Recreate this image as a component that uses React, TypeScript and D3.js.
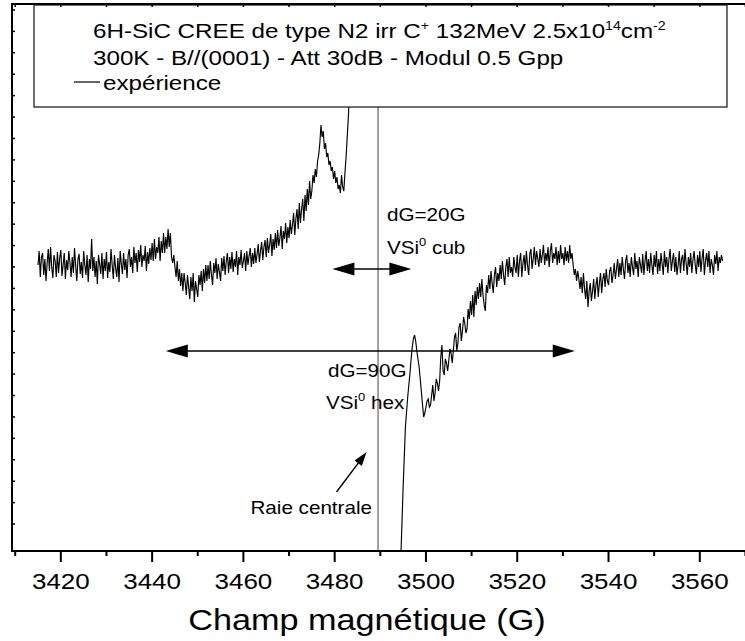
import React from "react";
import * as d3 from "d3";

// ---- data ----
const FIELD_STEP = 0.25;
const LEFT_START = 3415;
const LEFT_VALUES = [
  2, 16, -10, 10, 14, -8, 8, -14, 4, 18,
  -4, 20, 0, -11, 12, 6, -10, 15, -6, 9,
  17, -9, 2, 14, -12, 7, -3, 16, 4, -10,
  10, -6, 19, 1, -14, 8, 13, -7, 5, -11,
  16, 2, -8, 12, -15, 8, -2, 28, -4, 10,
  -10, 6, -17, 12, 3, -7, 14, -12, 8, -4,
  15, -11, 5, -5, 18, 2, -12, 12, -1, -10,
  9, -15, 16, 3, -7, 14, -3, 8, -11, 12,
  18, 0, 10, -6, 20, 4, 14, -5, 17, 5,
  22, 0, 12, 6, 21, -4, 15, 3, 19, 7,
  24, 6, 28, 8, 20, 14, 30, 6, 26, 14,
  34, 14, 30, 18, 38, 20, 34, 10, 4, 12,
  0, -10, 6, -14, -2, -19, -6, -24, -6, -16,
  -28, -8, -20, -32, -10, -24, -6, -35, -14, -22,
  -30, -8, -18, -4, -24, -2, -16, 2, -14, 2,
  -12, 6, -8, -18, 4, -6, 9, -12, 3, -5,
  -14, 9, -4, 11, -8, 6, 14, -6, 10, -2,
  15, -5, 8, 0, 16, -8, 10, 2, 17, -1,
  6, 14, -4, 16, 2, 11, 19, 0, 14, 3,
  19, 4, 13, 23, 5, 16, 25, 7, 20, 27,
  10, 29, 14, 22, 33, 11, 28, 17, 34, 19,
  37, 21, 29, 41, 18, 36, 28, 44, 24, 40,
  29, 47, 33, 42, 54, 32, 48, 58, 38, 64,
  44, 58, 68, 46, 72, 56, 78, 62, 86, 68,
  76, 92, 84, 98, 90, 106, 112, 124, 142, 130,
  136, 118, 124, 110, 114, 102, 106, 96, 100, 88,
  96, 84, 90, 78, 82, 74, 92, 80, 76, 94,
  110, 130, 150, 175, 205, 240, 290, 340, 400, 460,
];
const RIGHT_START = 3494;
const RIGHT_VALUES = [
  -420, -350, -290, -255, -220, -190, -160, -145, -130, -118,
  -106, -92, -80, -72, -68, -74, -84, -92, -100, -112,
  -125, -138, -150, -146, -140, -134, -132, -140, -138, -128,
  -118, -134, -126, -112, -116, -124, -114, -90, -78, -104,
  -108, -92, -96, -104, -94, -82, -86, -96, -84, -70,
  -66, -84, -76, -60, -56, -74, -64, -50, -56, -66,
  -62, -42, -52, -34, -48, -28, -50, -24, -38, -20,
  -32, -16, -30, -12, -28, -38, -44, -18, -26, -8,
  -22, -4, -16, -26, -8, 0, -20, -6, -14, 2,
  -12, 6, -8, -18, 0, 8, -10, 10, -6, 0,
  -10, 10, 0, -6, 12, -10, 6, 14, -10, 4,
  12, -4, 16, 2, -8, 13, 18, -2, 8, 20,
  2, 16, 8, 0, 18, 4, 12, 22, 2, 14,
  6, 20, 0, 16, 24, 4, 14, 8, 20, 2,
  16, 4, 22, 8, 14, 2, 20, 6, 16, 4,
  22, 8, 14, 2, -8, -2, -14, -4, -12, -22,
  -10, -26, -6, -22, -32, -14, -40, -24, -16, -34,
  -24, -12, -32, -18, -10, -30, -16, -6, -26, -12,
  -6, -20, -2, -14, -18, -4, 0, -16, -8, 4,
  -12, -2, 8, -10, 4, -8, 10, -2, -12, 6,
  12, -6, 4, -10, 10, 0, -8, 14, -2, 6,
  -10, 10, 2, -6, 13, -8, 6, 16, -4, 8,
  -6, 14, 2, -8, 12, 0, 16, -7, 8, -4,
  14, 3, -8, 16, 0, 10, -6, 8, 18, -4,
  6, 14, -5, 10, -8, 2, 16, -6, 8, 12,
  -4, 18, 4, -8, 10, 0, 14, -6, 7, 16,
  2, -7, 12, 0, 16, -5, 9, 18, -8, 6,
  14, 0, 16, -6, 8, 2, -8, 12, 3, 16,
  -4, 10, 4, 12, 6,
];
const X_MAJOR_TICKS = [3420, 3440, 3460, 3480, 3500, 3520, 3540, 3560];
const X_MINOR_TICKS = [3410, 3430, 3450, 3470, 3490, 3510, 3530, 3550, 3570];
const Y_TICK_INDEX = d3.range(-12, 13);
const Y_TICK_STEP = 21.42;
const CENTRAL_FIELD = 3489.5;
const ARROW_20G = { from: 3479.5, to: 3496.8, v: -2 };
const ARROW_90G = { from: 3443.0, to: 3532.6, v: -84 };
const ARROW_RAIE = { x0: 3480.4, v0: -225, x1: 3487.0, v1: -185 };

// ---- layout ----
const W = 745;
const H = 641;
const LEFT = 12;
const RIGHT = 750;
const TOP = 4;
const BOTTOM = 551;
const FONT = "'Liberation Sans', Arial, Helvetica, sans-serif";
const SX = 1.18;

const x = d3.scaleLinear().domain([3409.3, 3571.0]).range([LEFT, RIGHT]);
const y = d3.scaleLinear().domain([-284, 263]).range([BOTTOM, TOP]);

type Pt = { f: number; v: number };
const leftData: Pt[] = LEFT_VALUES.map((v, i) => ({ f: LEFT_START + i * FIELD_STEP, v }));
const rightData: Pt[] = RIGHT_VALUES.map((v, i) => ({ f: RIGHT_START + i * FIELD_STEP, v }));
const line = d3
  .line<Pt>()
  .x((d) => x(d.f))
  .y((d) => y(d.v));

function SText(props: {
  x: number;
  y: number;
  size: number;
  anchor?: string;
  children: React.ReactNode;
}) {
  return (
    <text
      transform={`translate(${props.x},${props.y}) scale(${SX},1)`}
      fontSize={props.size}
      fontFamily={FONT}
      textAnchor={props.anchor || "start"}
      fill="#000"
    >
      {props.children}
    </text>
  );
}

function head(tx: number, ty: number, dx: number, dy: number, L: number, Wd: number) {
  const len = Math.hypot(dx, dy);
  const ux = dx / len;
  const uy = dy / len;
  const bx = tx - ux * L;
  const by = ty - uy * L;
  const px = -uy * Wd;
  const py = ux * Wd;
  return `M${tx},${ty}L${bx + px},${by + py}L${bx - px},${by - py}Z`;
}

function DoubleArrow({ from, to, v }: { from: number; to: number; v: number }) {
  const x0 = x(from);
  const x1 = x(to);
  const yy = y(v);
  return (
    <g>
      <line x1={x0 + 10} x2={x1 - 10} y1={yy} y2={yy} stroke="#000" strokeWidth={1.5} />
      <path d={head(x0, yy, -1, 0, 22, 6.5)} fill="#000" />
      <path d={head(x1, yy, 1, 0, 22, 6.5)} fill="#000" />
    </g>
  );
}

export default function App() {
  const xc = x(CENTRAL_FIELD);
  const ra0x = x(ARROW_RAIE.x0);
  const ra0y = y(ARROW_RAIE.v0);
  const ra1x = x(ARROW_RAIE.x1);
  const ra1y = y(ARROW_RAIE.v1);
  const supSize = 12;
  return (
    <svg
      width={W}
      height={H}
      style={{ position: "absolute", left: 0, top: 0, background: "#fff" }}
    >
      <defs>
        <clipPath id="plotclip">
          <rect x={LEFT} y={TOP} width={RIGHT - LEFT} height={BOTTOM - TOP} />
        </clipPath>
      </defs>
      <rect x={0} y={0} width={W} height={H} fill="#fff" />
      {/* signal */}
      <g clipPath="url(#plotclip)">
        <path d={line(leftData) || ""} fill="none" stroke="#000" strokeWidth={1.15} />
        <path d={line(rightData) || ""} fill="none" stroke="#000" strokeWidth={1.15} />
      </g>
      {/* central line */}
      <line x1={xc} x2={xc} y1={107} y2={BOTTOM} stroke="#444" strokeWidth={1} />
      {/* arrows */}
      <DoubleArrow {...ARROW_20G} />
      <DoubleArrow {...ARROW_90G} />
      <line x1={ra0x} y1={ra0y} x2={ra1x - (ra1x - ra0x) * 0.25} y2={ra1y - (ra1y - ra0y) * 0.25} stroke="#000" strokeWidth={1.3} />
      <path d={head(ra1x, ra1y, ra1x - ra0x, ra1y - ra0y, 14, 4.5)} fill="#000" />
      {/* annotations */}
      <SText x={387} y={221} size={17.5}>dG=20G</SText>
      <SText x={387} y={254} size={17.5}>
        VSi<tspan dy={-8} fontSize={11}>0</tspan>
        <tspan dy={8}> cub</tspan>
      </SText>
      <SText x={328} y={377} size={17.5}>dG=90G</SText>
      <SText x={326} y={409} size={17.5}>
        VSi<tspan dy={-8} fontSize={11}>0</tspan>
        <tspan dy={8}> hex</tspan>
      </SText>
      <SText x={372} y={514} size={17.5} anchor="end">Raie centrale</SText>
      {/* legend box */}
      <rect x={34} y={5} width={693} height={102} fill="#fff" stroke="#222" strokeWidth={1.3} />
      <SText x={93} y={38} size={20.5}>
        6H-SiC CREE de type N2 irr C<tspan dy={-8} fontSize={supSize}>+</tspan>
        <tspan dy={8}> 132MeV 2.5x10</tspan>
        <tspan dy={-8} fontSize={supSize}>14</tspan>
        <tspan dy={8}>cm</tspan>
        <tspan dy={-8} fontSize={supSize}>-2</tspan>
      </SText>
      <SText x={93} y={65} size={20.5}>300K - B//(0001) - Att 30dB - Modul 0.5 Gpp</SText>
      <line x1={74} x2={100} y1={82} y2={82} stroke="#000" strokeWidth={1.2} />
      <SText x={103} y={90} size={20.5}>expérience</SText>
      {/* axes */}
      <line x1={LEFT} x2={RIGHT} y1={TOP} y2={TOP} stroke="#000" strokeWidth={2} />
      <line x1={LEFT} x2={RIGHT} y1={BOTTOM} y2={BOTTOM} stroke="#000" strokeWidth={2} />
      <line x1={LEFT} x2={LEFT} y1={TOP - 1} y2={BOTTOM + 1} stroke="#000" strokeWidth={2} />
      {Y_TICK_INDEX.map((k) => (
        <line key={"yt" + k} x1={LEFT} x2={LEFT + 3} y1={y(k * Y_TICK_STEP)} y2={y(k * Y_TICK_STEP)} stroke="#000" strokeWidth={1.5} />
      ))}
      {[...X_MAJOR_TICKS, ...X_MINOR_TICKS].map((t) => (
        <line key={"tt" + t} x1={x(t)} x2={x(t)} y1={TOP} y2={TOP + 3} stroke="#000" strokeWidth={1.5} />
      ))}
      {X_MAJOR_TICKS.map((t) => (
        <g key={"xt" + t}>
          <line x1={x(t)} x2={x(t)} y1={BOTTOM} y2={BOTTOM + 11} stroke="#000" strokeWidth={2} />
          <SText x={x(t)} y={589} size={22} anchor="middle">{t}</SText>
        </g>
      ))}
      {X_MINOR_TICKS.map((t) => (
        <line key={"xm" + t} x1={x(t)} x2={x(t)} y1={BOTTOM} y2={BOTTOM + 5} stroke="#000" strokeWidth={2} />
      ))}
      <SText x={367} y={630} size={29} anchor="middle">Champ magnétique (G)</SText>
    </svg>
  );
}
